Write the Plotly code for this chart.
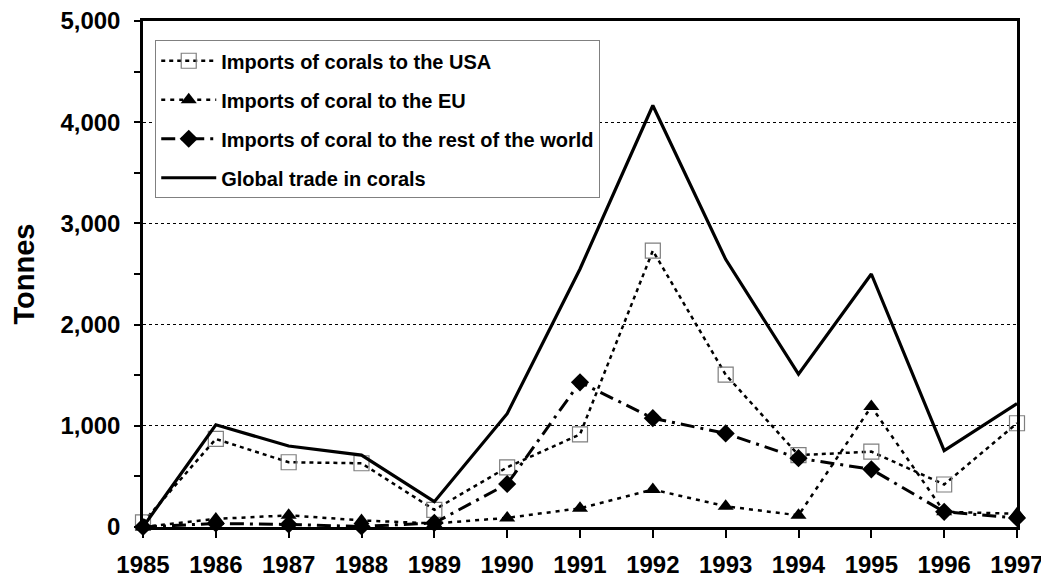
import plotly.graph_objects as go

years = [1985, 1986, 1987, 1988, 1989, 1990, 1991, 1992, 1993, 1994, 1995, 1996, 1997]
usa = [45, 870, 640, 630, 170, 590, 915, 2730, 1505, 710, 745, 420, 1025]
eu = [0, 80, 115, 65, 35, 90, 185, 370, 205, 115, 1190, 150, 130]
row = [0, 35, 25, 5, 40, 425, 1430, 1075, 925, 680, 570, 150, 90]
glob = [0, 1010, 800, 710, 250, 1120, 2550, 4165, 2645, 1510, 2500, 755, 1220]

yticks = [0, 1000, 2000, 3000, 4000, 5000]
ytick_text = ["0", "1,000", "2,000", "3,000", "4,000", "5,000"]

FONT = "Liberation Sans, Arial, sans-serif"

fig = go.Figure()
fig.add_trace(go.Scatter(
    x=years, y=usa, name="<b>Imports of corals to the USA</b>", mode="lines+markers",
    line=dict(color="black", width=2.5, dash="4px,4px"),
    marker=dict(symbol="square-open", size=15, color="#7f7f7f", line=dict(width=1.2, color="#7f7f7f")),
    cliponaxis=False, legendgroup="a"))
fig.add_trace(go.Scatter(
    x=years, y=eu, name="<b>Imports of coral to the EU</b>", mode="lines+markers",
    line=dict(color="black", width=2.5, dash="4px,5px"),
    marker=dict(symbol="triangle-up", size=14, color="black"),
    cliponaxis=False, legendgroup="b"))
fig.add_trace(go.Scatter(
    x=years, y=row, name="<b>Imports of coral to the rest of the world</b>", mode="lines+markers",
    line=dict(color="black", width=3, dash="14px,6px,3px,6px"),
    marker=dict(symbol="diamond", size=14, color="black"),
    cliponaxis=False, legendgroup="c"))
fig.add_trace(go.Scatter(
    x=years, y=glob, name="<b>Global trade in corals</b>", mode="lines",
    line=dict(color="black", width=3.2),
    cliponaxis=False, legendgroup="d"))

fig.update_layout(
    width=1049, height=580,
    margin=dict(l=135, r=40, t=13, b=61),
    paper_bgcolor="white", plot_bgcolor="white",
    font=dict(family=FONT, color="black"),
    showlegend=True,
    legend=dict(
        x=0.014, y=0.962, xanchor="left", yanchor="top",
        bordercolor="#808080", borderwidth=1, bgcolor="white",
        font=dict(size=20, family=FONT, color="black"),
        tracegroupgap=10, itemwidth=55,
    ),
    xaxis=dict(
        range=[1985, 1997], tickmode="array", tickvals=years,
        ticktext=["<b>%d</b>" % y for y in years],
        tickfont=dict(size=24, family=FONT), ticks="outside", ticklen=8, tickwidth=2,
        tickcolor="black", showgrid=False, zeroline=False, automargin=False,
        ticklabelstandoff=6, ticklabeloverflow="allow",
        showline=True, linecolor="black", linewidth=2.5, mirror=True,
    ),
    yaxis=dict(
        range=[0, 5000], tickmode="array", tickvals=yticks,
        ticktext=["<b>%s</b>" % t for t in ytick_text],
        tickfont=dict(size=24, family=FONT), ticks="outside", ticklen=6, tickwidth=2,
        tickcolor="black", ticklabelstandoff=9, automargin=False, ticklabeloverflow="allow",
        minor=dict(ticks="outside", dtick=500, ticklen=6, tickwidth=2, tickcolor="black", showgrid=False),
        showgrid=True, gridcolor="black", gridwidth=1, griddash="dot",
        zeroline=False, showline=True, linecolor="black", linewidth=2.5, mirror=True,
        title=dict(text="<b>Tonnes</b>", font=dict(size=29, family=FONT), standoff=18),
    ),
)

fig.write_html("out.html")
